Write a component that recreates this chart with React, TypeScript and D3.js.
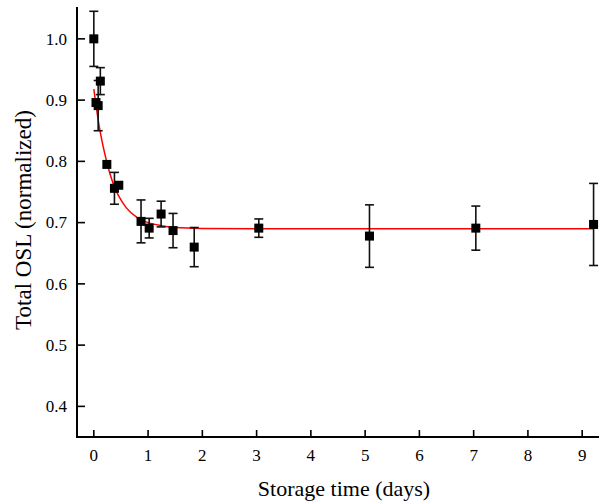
import React from "react";
import * as d3 from "d3";

const times = [0, 0.04, 0.08, 0.12, 0.24, 0.38, 0.46, 0.87, 1.02, 1.24, 1.46, 1.85, 3.04, 5.08, 7.04, 9.21];
const values = [1.0, 0.896, 0.891, 0.931, 0.795, 0.756, 0.761, 0.702, 0.691, 0.714, 0.687, 0.66, 0.691, 0.678, 0.691, 0.697];
const errors = [0.045, 0, 0.041, 0.022, 0, 0.026, 0, 0.035, 0.016, 0.021, 0.028, 0.032, 0.015, 0.051, 0.036, 0.067];

const fitTimes = [0, 0.1, 0.2, 0.3, 0.4, 0.5, 0.6, 0.8, 1.0, 1.25, 1.5, 2.0, 3.0, 9.2];
const fitValues = [0.918, 0.857, 0.813, 0.779, 0.754, 0.737, 0.724, 0.708, 0.7, 0.695, 0.692, 0.6905, 0.69, 0.69];

const xTicks = [0, 1, 2, 3, 4, 5, 6, 7, 8, 9];
const yTicks = [0.4, 0.5, 0.6, 0.7, 0.8, 0.9, 1.0];

const W = 599;
const H = 504;
const FONT = "'Liberation Serif', 'Times New Roman', serif";

export default function App() {
  const x = d3.scaleLinear().domain([-0.31, 9.31]).range([77, 599]);
  const y = d3.scaleLinear().domain([0.35, 1.052]).range([437, 7]);
  const x0 = x.range()[0];
  const y0 = y.range()[0];

  const line = d3
    .line<number>()
    .x((_, i) => x(fitTimes[i]))
    .y((d) => y(d))
    .curve(d3.curveMonotoneX);

  const ms = 9;
  const cap = 4.5;

  return (
    <svg
      width={W}
      height={H}
      style={{ position: "absolute", left: 0, top: 0, background: "#fff" }}
      fontFamily={FONT}
    >
      {/* fit curve */}
      <path d={line(fitValues) || ""} fill="none" stroke="#ff0000" strokeWidth={1.5} />

      {/* error bars */}
      {times.map((t, i) =>
        errors[i] > 0 ? (
          <g key={"e" + i} stroke="#111" strokeWidth={1.6}>
            <line x1={x(t)} x2={x(t)} y1={y(values[i] + errors[i])} y2={y(values[i] - errors[i])} />
            <line x1={x(t) - cap} x2={x(t) + cap} y1={y(values[i] + errors[i])} y2={y(values[i] + errors[i])} />
            <line x1={x(t) - cap} x2={x(t) + cap} y1={y(values[i] - errors[i])} y2={y(values[i] - errors[i])} />
          </g>
        ) : null
      )}

      {/* markers */}
      {times.map((t, i) => (
        <rect key={"m" + i} x={x(t) - ms / 2} y={y(values[i]) - ms / 2} width={ms} height={ms} fill="#000" />
      ))}

      {/* axes */}
      <line x1={x0} x2={x0} y1={7} y2={y0 + 1} stroke="#000" strokeWidth={2} />
      <line x1={x0 - 1} x2={W} y1={y0} y2={y0} stroke="#000" strokeWidth={2} />

      {xTicks.map((t) => (
        <g key={"xt" + t}>
          <line x1={x(t)} x2={x(t)} y1={y0} y2={y0 - 7} stroke="#000" strokeWidth={1.6} />
          <text x={x(t)} y={461} textAnchor="middle" fontSize={17} fill="#000">
            {t}
          </text>
        </g>
      ))}
      {yTicks.map((t) => (
        <g key={"yt" + t}>
          <line x1={x0} x2={x0 + 8} y1={y(t)} y2={y(t)} stroke="#000" strokeWidth={1.6} />
          <text x={67} y={y(t)} dy="0.34em" textAnchor="end" fontSize={17} fill="#000">
            {t.toFixed(1)}
          </text>
        </g>
      ))}

      <text x={344} y={496} textAnchor="middle" fontSize={22} fill="#000">
        Storage time (days)
      </text>
      <text
        transform={`translate(31, 220) rotate(-90)`}
        textAnchor="middle"
        fontSize={23}
        fill="#000"
      >
        Total OSL (normalized)
      </text>
    </svg>
  );
}
